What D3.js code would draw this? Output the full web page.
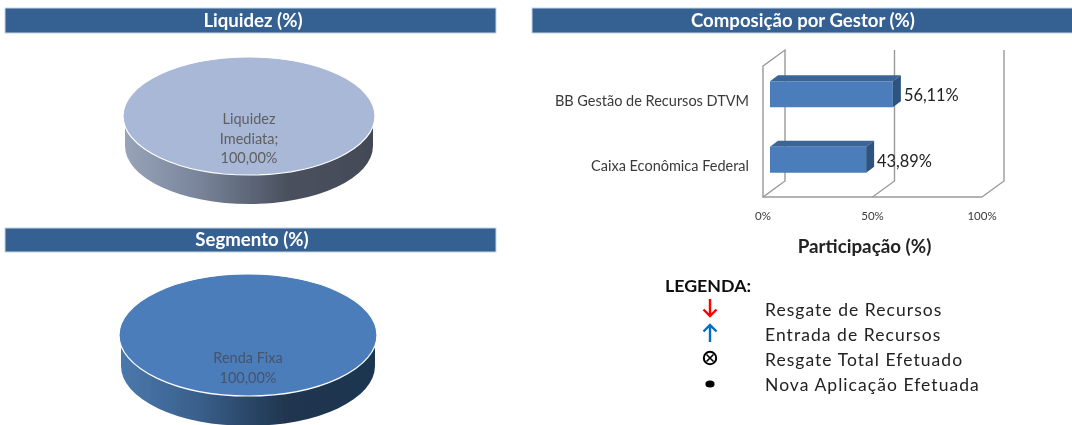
<!DOCTYPE html>
<html>
<head>
<meta charset="utf-8">
<script src="https://cdn.jsdelivr.net/npm/d3@7"></script>
<style>
  html, body { margin: 0; padding: 0; background: #fff; overflow: hidden; }
  svg { display: block; }
  text { font-family: Lato, "Open Sans", sans-serif; }
</style>
</head>
<body>
<svg id="chart" width="1072" height="425"></svg>
<script>
// chart values
var headers = ["Liquidez (%)", "Composição por Gestor (%)", "Segmento (%)"];
var liquidezLabels = ["Liquidez", "Imediata;", "100,00%"];
var liquidezValues = [100];
var segmentoLabels = ["Renda Fixa", "100,00%"];
var segmentoValues = [100];
var gestores = ["BB Gestão de Recursos DTVM", "Caixa Econômica Federal"];
var gestorValues = [56.11, 43.89];
var gestorLabels = ["56,11%", "43,89%"];
var xTicks = [0, 50, 100];
var legendNames = ["Resgate de Recursos", "Entrada de Recursos", "Resgate Total Efetuado", "Nova Aplicação Efetuada"];
var legendKinds = ["down", "up", "cross", "dot"];
var legendColors = ["#ff0000", "#0070c0", "#000000", "#000000"];

var svg = d3.select("#chart");
var defs = svg.append("defs");

// the reference is a slightly soft raster
defs.append("filter").attr("id", "soft")
  .append("feGaussianBlur").attr("stdDeviation", 0.4);

var root = svg.append("g").attr("filter", "url(#soft)");

function header(x, y, w, h, txt, textX) {
  root.append("rect")
    .attr("x", x).attr("y", y).attr("width", w).attr("height", h)
    .attr("fill", "#366092").attr("stroke", "#c5d3e6").attr("stroke-width", 1);
  root.append("text")
    .attr("x", textX).attr("y", y + h / 2 + 6)
    .attr("text-anchor", "middle")
    .attr("font-size", 18.6).attr("font-weight", 700).attr("fill", "#fff")
    .text(txt);
}

header(5, 8, 491, 25, headers[0], 253);
header(532, 8, 545, 25, headers[1], 803);
header(5, 228, 491, 24, headers[2], 252);

// pies
function pie3d(id, values, cx, cy, rx, ry, depth, topColor, wallStops, labels, labelY, labelColor) {
  var g = root.append("g").attr("transform", "translate(" + cx + "," + cy + ")");
  var k = ry / rx;

  var grad = defs.append("linearGradient").attr("id", id)
    .attr("x1", "0%").attr("x2", "100%").attr("y1", "0%").attr("y2", "0%");
  grad.selectAll("stop").data(wallStops).enter().append("stop")
    .attr("offset", function(d) { return d[0]; })
    .attr("stop-color", function(d) { return d[1]; });

  // side wall, a bit narrower than the top so the lid overhangs it
  var r = rx - 2;
  var d = (depth + ry) / k - r;
  var wall = d3.path();
  wall.moveTo(-r, 0);
  wall.arc(0, 0, r, Math.PI, 0, true);
  wall.lineTo(r, d);
  wall.arc(0, d, r, 0, Math.PI, false);
  wall.closePath();
  g.append("path")
    .attr("transform", "scale(1," + k + ")")
    .attr("d", wall.toString())
    .attr("fill", "url(#" + id + ")");

  var arcs = d3.pie().sort(null)(values);
  var arc = d3.arc().innerRadius(0).outerRadius(rx);
  g.selectAll("path.slice").data(arcs).enter().append("path")
    .attr("class", "slice")
    .attr("transform", "scale(1," + k + ")")
    .attr("d", arc)
    .attr("fill", topColor)
    .attr("stroke", "#fff")
    .attr("stroke-width", 1.2)
    .attr("vector-effect", "non-scaling-stroke");

  g.selectAll("text").data(labels).enter().append("text")
    .attr("x", 0)
    .attr("y", function(d, i) { return labelY + i * 19.5; })
    .attr("text-anchor", "middle")
    .attr("font-size", 14.5)
    .attr("fill", labelColor)
    .text(function(d) { return d; });
}

pie3d("wall1", liquidezValues, 249, 116, 126, 59, 29, "#a8b8d6",
  [[0, "#97a4b8"], [0.3, "#78849a"], [0.65, "#4a515f"], [1, "#434a56"]],
  liquidezLabels, 8, "#5f5f5f");

pie3d("wall2", segmentoValues, 248, 335, 129, 61, 30, "#4c7dba",
  [[0, "#4a78ac"], [0.3, "#3a608c"], [0.65, "#20354f"], [1, "#1f3551"]],
  segmentoLabels, 28, "#44546a");

// 3D bars
var chartG = root.append("g");
var depthX = 22, depthY = -16;
var floorY = 197, wallTop = 66;
var x = d3.scaleLinear().domain([0, 100]).range([763, 982]);
var y = d3.scaleBand().domain(gestores).range([61.5, 192.5]).paddingInner(0.5).paddingOuter(0.25);
var barH = 26;
var barStart = 7, barDx = 8, barDy = -6;

// walls and floor
var gridColor = "#9a9a9a";
chartG.selectAll("path.grid").data(xTicks).enter().append("path")
  .attr("class", "grid")
  .attr("fill", "none").attr("stroke", gridColor).attr("stroke-width", 1.4)
  .attr("d", function(t) {
    var x0 = x(t);
    var p = "M" + x0 + "," + floorY + "L" + (x0 + depthX) + "," + (floorY + depthY) + "L" + (x0 + depthX) + "," + (wallTop + depthY);
    if (t === 0) p += "L" + x0 + "," + wallTop + "Z";
    return p;
  });
chartG.append("line")
  .attr("x1", x(0)).attr("x2", x(100)).attr("y1", floorY).attr("y2", floorY)
  .attr("stroke", gridColor).attr("stroke-width", 1.4);

var bars = chartG.selectAll("g.bar").data(gestorValues).enter().append("g").attr("class", "bar");
function barY(i) { return y(gestores[i]) + (y.bandwidth() - barH) / 2; }
function barEnd(v) { return x(0) + barStart + (x(v) - x(0)); }

bars.append("path")
  .attr("fill", "#3a6596")
  .attr("d", function(v, i) {
    var t = barY(i), l = x(0) + barStart, r = barEnd(v);
    return "M" + l + "," + t + "L" + (l + barDx) + "," + (t + barDy) + "L" + (r + barDx) + "," + (t + barDy) + "L" + r + "," + t + "Z";
  });
bars.append("path")
  .attr("fill", "#2f527f")
  .attr("d", function(v, i) {
    var t = barY(i), r = barEnd(v);
    return "M" + r + "," + t + "L" + (r + barDx) + "," + (t + barDy) + "L" + (r + barDx) + "," + (t + barDy + barH) + "L" + r + "," + (t + barH) + "Z";
  });
bars.append("rect")
  .attr("x", x(0) + barStart)
  .attr("y", function(v, i) { return barY(i); })
  .attr("width", function(v) { return x(v) - x(0); })
  .attr("height", barH)
  .attr("fill", "#4c7dba");

bars.append("text")
  .attr("x", function(v) { return barEnd(v) + 11; })
  .attr("y", function(v, i) { return barY(i) + 20; })
  .attr("font-size", 16.4).attr("fill", "#222")
  .text(function(v, i) { return gestorLabels[i]; });

chartG.selectAll("text.cat").data(gestores).enter().append("text")
  .attr("class", "cat")
  .attr("x", 749)
  .attr("y", function(d, i) { return barY(i) + 24.5; })
  .attr("text-anchor", "end")
  .attr("font-size", 14.5).attr("fill", "#3a3a3a")
  .text(function(d) { return d; });

chartG.selectAll("text.tick").data(xTicks).enter().append("text")
  .attr("class", "tick")
  .attr("x", function(t) { return x(t); })
  .attr("y", 220)
  .attr("text-anchor", "middle")
  .attr("font-size", 11.5).attr("fill", "#3a3a3a")
  .text(function(t) { return t + "%"; });

chartG.append("text")
  .attr("x", 864.5).attr("y", 253)
  .attr("text-anchor", "middle")
  .attr("font-size", 18.8).attr("font-weight", 700).attr("fill", "#222")
  .text("Participação (%)");

// legend
var legendG = root.append("g");
var legendY = d3.scalePoint().domain(legendNames).range([316, 391]);

legendG.append("text")
  .attr("x", 665).attr("y", 292)
  .attr("font-size", 17.8).attr("font-weight", 700).attr("fill", "#111")
  .text("LEGENDA:");

legendG.selectAll("text.name").data(legendNames).enter().append("text")
  .attr("class", "name")
  .attr("x", 765)
  .attr("y", function(d) { return legendY(d); })
  .attr("font-size", 17.5).attr("letter-spacing", 1.05).attr("fill", "#222")
  .text(function(d) { return d; });

// symbols sit on the row of their legend entry, drawn round (0,0)
var symbolPaths = {
  down: "M0,-9V8M-6.5,1.5L0,8L6.5,1.5",
  up: "M0,9V-8M-6.5,-1.5L0,-8L6.5,-1.5",
  cross: "M-3.5,-3.5L3.5,3.5M-3.5,3.5L3.5,-3.5"
};
var symbols = legendG.selectAll("g.sym").data(legendKinds).enter().append("g")
  .attr("class", "sym")
  .attr("transform", function(d, i) { return "translate(710," + (legendY(legendNames[i]) - 8) + ")"; });

symbols.filter(function(d) { return d !== "dot"; }).append("path")
  .attr("d", function(d) { return symbolPaths[d]; })
  .attr("fill", "none")
  .attr("stroke", function(d) { return legendColors[legendKinds.indexOf(d)]; })
  .attr("stroke-width", function(d) { return d === "cross" ? 1.6 : 2.4; });

symbols.filter(function(d) { return d === "cross"; }).append("circle")
  .attr("r", 6.2).attr("fill", "none").attr("stroke", "#000").attr("stroke-width", 2);

symbols.filter(function(d) { return d === "dot"; }).append("ellipse")
  .attr("cy", 1).attr("rx", 4.6).attr("ry", 3.5).attr("fill", "#000");
</script>
</body>
</html>
